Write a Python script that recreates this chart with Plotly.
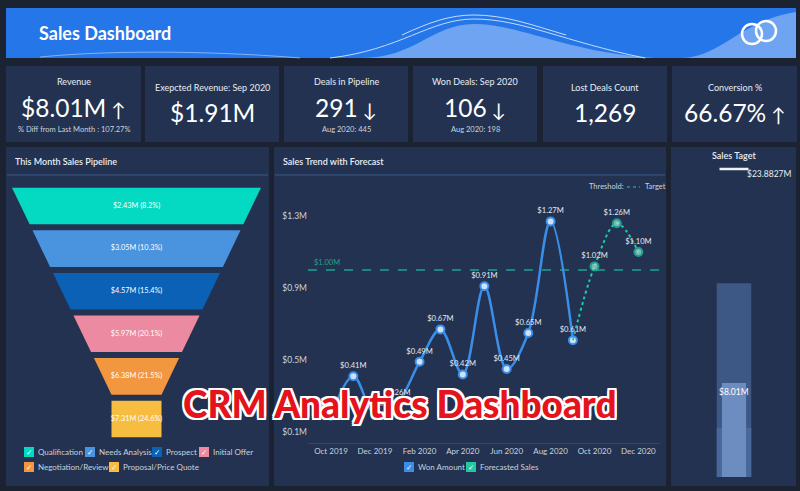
import plotly.graph_objects as go

W, H = 800, 491

# ---------------- data ----------------
kpi_titles = ["Revenue", "Exepcted Revenue: Sep 2020", "Deals in Pipeline",
              "Won Deals: Sep 2020", "Lost Deals Count", "Conversion %"]
kpi_values = ["$8.01M", "$1.91M", "291", "106", "1,269", "66.67%"]
kpi_arrows = ["↑", "", "↓", "↓", "", "↑"]
kpi_subs = ["% Diff from Last Month : 107.27%", "", "Aug 2020: 445",
            "Aug 2020: 198", "", ""]

stages = ["Qualification", "Needs Analysis", "Prospect", "Initial Offer",
          "Negotiation/Review", "Proposal/Price Quote"]
stage_amounts = [2.43, 3.05, 4.57, 5.97, 6.38, 7.31]
stage_colors = ["#04d9c1", "#4993df", "#0b61b5", "#eb8aa0", "#f2963f", "#f6bd40"]

won_months = ["2019-10-01", "2019-11-01", "2019-12-01", "2020-01-01",
              "2020-02-01", "2020-03-01", "2020-04-01", "2020-05-01",
              "2020-06-01", "2020-07-01", "2020-08-01", "2020-09-01"]
won_amounts = [0.19, 0.41, 0.20, 0.26, 0.49, 0.67, 0.42, 0.91, 0.45, 0.65, 1.27, 0.61]
forecast_months = ["2020-09-01", "2020-10-01", "2020-11-01", "2020-12-01"]
forecast_amounts = [0.61, 1.02, 1.26, 1.10]
threshold = 1.00
trend_yticks = [0.1, 0.5, 0.9, 1.3]

sales_target = 23.8827
sales_actual = 8.01
target_bands = [15.4, 4.7]

# ---------------- colours ----------------
BG = "#1b2231"
CARD = "#233250"
SEP = "#3a5a8c"
TXT = "#e8edf4"
SUB = "#c9d2de"
BLUE = "#3b8ee8"
TEAL = "#1ec9a6"


def X(p):
    return p / W


def Y(p):
    return 1 - p / H


shapes = []
annotations = []


def rect(x0, y0, x1, y1, fill, layer="below"):
    shapes.append(dict(type="rect", xref="paper", yref="paper",
                       x0=X(x0), x1=X(x1), y0=Y(y1), y1=Y(y0),
                       fillcolor=fill, line=dict(width=0), layer=layer))


def path(pts_cmds, fill=None, line=None, layer="below"):
    s = ""
    for tok in pts_cmds:
        if isinstance(tok, str):
            s += tok + " "
        else:
            s += f"{X(tok[0]):.5f},{Y(tok[1]):.5f} "
    d = dict(type="path", xref="paper", yref="paper", path=s.strip(), layer=layer)
    d["fillcolor"] = fill if fill else "rgba(0,0,0,0)"
    d["line"] = line if line else dict(width=0)
    shapes.append(d)


def text(x, y, t, size=10, color=TXT, xanchor="center", family="Lato", weight=None, **kw):
    f = dict(size=size, color=color, family=family)
    if weight:
        f["weight"] = weight
    annotations.append(dict(xref="paper", yref="paper", x=X(x), y=Y(y), text=t,
                            showarrow=False, xanchor=xanchor, yanchor="middle",
                            font=f, **kw))


# ---------------- header ----------------
rect(6, 8, 796, 58, "#2576e8")
path(["M", (362, 58), "C", (415, 58), (432, 24), (474, 24), "C", (520, 24), (565, 52), (655, 58), "Z"],
     fill="#6ea4f1")
path(["M", (683, 58), "C", (722, 56), (742, 20), (796, 12), "L", (796, 58), "Z"], fill="#6ea4f1")
path(["M", (402, 35), "C", (430, 22), (450, 15), (474, 15), "C", (505, 15), (532, 25), (566, 35)],
     line=dict(color="rgba(225,236,255,0.85)", width=1))
path(["M", (330, 58), "C", (400, 50), (430, 19), (474, 19), "C", (522, 19), (565, 42), (645, 58)],
     line=dict(color="rgba(225,236,255,0.85)", width=1))
path(["M", (40, 57), "C", (120, 49), (230, 52), (300, 58)],
     line=dict(color="rgba(225,236,255,0.5)", width=1))
shapes.append(dict(type="circle", xref="paper", yref="paper", x0=X(742), x1=X(762),
                   y0=Y(44), y1=Y(24), line=dict(color="white", width=2.5), layer="above"))
shapes.append(dict(type="circle", xref="paper", yref="paper", x0=X(756), x1=X(776),
                   y0=Y(41), y1=Y(21), line=dict(color="white", width=2.5), layer="above"))
text(37, 33, "Sales Dashboard", size=18, color="white", xanchor="left", weight=700)

# ---------------- KPI cards ----------------
card_x = [(6, 141), (145, 279), (284, 408), (413, 537), (543, 667), (672, 797)]
for (x0, x1), t, v, a, s in zip(card_x, kpi_titles, kpi_values, kpi_arrows, kpi_subs):
    rect(x0, 66, x1, 142, CARD)
    cx = (x0 + x1) / 2
    has_sub = bool(s)
    text(cx, 81 if has_sub else 87, t, size=9, color=TXT)
    vt = v + (f"<span style='font-size:19px'> {a}</span>" if a else "")
    text(cx, 107 if has_sub else 112, vt, size=24.5, color="white")
    if has_sub:
        text(cx, 129, s, size=7.5, color=SUB)

# ---------------- panels ----------------
rect(6, 147, 269, 486, CARD)
rect(274, 147, 666, 486, CARD)
rect(671, 147, 796, 486, CARD)
for x0, x1 in [(7, 268), (275, 665)]:
    shapes.append(dict(type="line", xref="paper", yref="paper", x0=X(x0), x1=X(x1),
                       y0=Y(175), y1=Y(175), line=dict(color=SEP, width=1.2), layer="below"))
text(13, 161, "This Month Sales Pipeline", size=9, xanchor="left", weight=600)
text(281, 161, "Sales Trend with Forecast", size=9, xanchor="left", weight=600)
text(734, 156, "Sales Taget", size=9, weight=600)

fig = go.Figure()

# ---------------- funnel ----------------
gap = 0.07
top_w, neck_w, t_start, taper = 249.0, 50.0, -0.43, 40.95
total = sum(stage_amounts)


def fw(t):
    return max(neck_w, top_w - taper * (t - t_start))


for i, (name, amt, col) in enumerate(zip(stages, stage_amounts, stage_colors)):
    tt, tb = i - 0.5 + gap, i + 0.5 - gap
    wt, wb = fw(tt), fw(tb)
    fig.add_trace(go.Scatter(x=[-wt / 2, wt / 2, wb / 2, -wb / 2, -wt / 2],
                             y=[tt, tt, tb, tb, tt], fill="toself", fillcolor=col,
                             mode="lines", line=dict(width=0), hoverinfo="skip",
                             xaxis="x", yaxis="y", showlegend=False))
fig.add_trace(go.Scatter(x=[0] * len(stages), y=list(range(len(stages))), mode="text",
                         text=[f"${a:.2f}M ({a / total * 100:.1f}%)" for a in stage_amounts],
                         textfont=dict(size=7.3, color="white", family="Lato"),
                         xaxis="x", yaxis="y", showlegend=False, hoverinfo="skip"))


def checkbox(x, y, col, label, size=8):
    shapes.append(dict(type="rect", xref="paper", yref="paper", x0=X(x), x1=X(x + 10),
                       y0=Y(y + 5), y1=Y(y - 5), fillcolor=col, line=dict(width=0), layer="above"))
    text(x + 5, y, "✓", size=7.5, color="white", family="DejaVu Sans")
    text(x + 12, y, label, size=size, color=SUB, xanchor="left")


leg_pos = [(24, 452), (85, 452), (152, 452), (199, 452), (24, 467), (109, 467)]
for (lx, ly), name, col in zip(leg_pos, stages, stage_colors):
    checkbox(lx, ly, col, name, size=8)

# ---------------- sales trend ----------------
fig.add_trace(go.Scatter(x=won_months, y=won_amounts, mode="lines+markers+text",
                         line=dict(color=BLUE, width=2.5, shape="spline"),
                         marker=dict(size=8, color="#cfe1f8", line=dict(color=BLUE, width=2)),
                         text=[f"${v:.2f}M" for v in won_amounts], textposition="top center",
                         textfont=dict(size=7.6, color="#e3e9f1", family="Lato"),
                         cliponaxis=False, xaxis="x2", yaxis="y2", showlegend=False,
                         hoverinfo="skip"))
fig.add_trace(go.Scatter(x=forecast_months, y=forecast_amounts, mode="lines+markers+text",
                         line=dict(color=TEAL, width=2, shape="spline", dash="dot"),
                         marker=dict(size=[0, 8, 8, 8], color="#a6f0de",
                                     line=dict(color=TEAL, width=2)),
                         text=[""] + [f"${v:.2f}M" for v in forecast_amounts[1:]],
                         textposition="top center",
                         textfont=dict(size=7.6, color="#e3e9f1", family="Lato"),
                         cliponaxis=False, xaxis="x2", yaxis="y2", showlegend=False,
                         hoverinfo="skip"))
shapes.append(dict(type="line", xref="x2 domain", yref="y2", x0=0, x1=1, y0=threshold,
                   y1=threshold, line=dict(color="#1aa58d", width=1.5, dash="dash"), layer="below"))
annotations.append(dict(xref="x2 domain", yref="y2", x=0.012, y=threshold, yshift=1,
                        text=f"${threshold:.2f}M", showarrow=False, xanchor="left",
                        yanchor="bottom", font=dict(size=7.5, color="#1aa58d", family="Lato")))
text(587, 187, "Threshold:", size=7.5, color=SUB, xanchor="left")
shapes.append(dict(type="line", xref="paper", yref="paper", x0=X(627), x1=X(640),
                   y0=Y(187), y1=Y(187), line=dict(color=TEAL, width=1.2, dash="dot"), layer="above"))
text(643, 187, "Target", size=7.5, color=SUB, xanchor="left")
checkbox(404, 467, BLUE, "Won Amount", size=8)
checkbox(466, 467, TEAL, "Forecasted Sales", size=8)

# ---------------- sales target ----------------
fig.add_trace(go.Bar(x=[0], y=[target_bands[0]], width=[1.0], marker=dict(color="#3d5885", line=dict(width=0)),
                     xaxis="x3", yaxis="y3", showlegend=False, hoverinfo="skip"))
fig.add_trace(go.Bar(x=[0], y=[target_bands[1]], width=[1.0], marker=dict(color="#48679a", line=dict(width=0)),
                     xaxis="x3", yaxis="y3", showlegend=False, hoverinfo="skip"))
fig.add_trace(go.Bar(x=[0], y=[sales_actual], width=[0.7], marker=dict(color="#6d8dc0", line=dict(width=0)),
                     xaxis="x3", yaxis="y3", showlegend=False, hoverinfo="skip"))
fig.add_trace(go.Scatter(x=[-0.42, 0.42], y=[sales_target, sales_target], mode="lines",
                         line=dict(color="#eef2f8", width=2.5), xaxis="x3", yaxis="y3",
                         showlegend=False, hoverinfo="skip", cliponaxis=False))
annotations.append(dict(xref="x3", yref="y3", x=0, y=sales_actual, yshift=-2,
                        text=f"${sales_actual:.2f}M", showarrow=False, yanchor="top",
                        font=dict(size=8.5, color="white", family="Lato")))
annotations.append(dict(xref="paper", yref="paper", x=X(769), y=Y(174),
                        text=f"${sales_target:.4f}M", showarrow=False, xanchor="center",
                        yanchor="middle", font=dict(size=8.5, color=TXT, family="Lato")))

# ---------------- overlay title ----------------
wsh = ", ".join(f"{dx}px {dy}px 0 #ffffff" for dx, dy in
                [(2, 0), (-2, 0), (0, 2), (0, -2), (2, 2), (-2, -2), (2, -2), (-2, 2)])
annotations.append(dict(xref="paper", yref="paper", x=0.5, y=Y(403),
                        text="CRM Analytics Dashboard", showarrow=False,
                        xanchor="center", yanchor="middle",
                        font=dict(size=37, color="#e5131b", family="Lato", weight=900, shadow=wsh)))

# ---------------- layout ----------------
t_lo = 0.1 - (443 - 432) / 180
t_hi = 0.1 + (432 - 190) / 180
px_per_m = (383 - 169) / (sales_target - sales_actual)
s_lo = sales_target - (477 - 169) / px_per_m
s_hi = sales_target + (169 - 160) / px_per_m

fig.update_layout(
    width=W, height=H, autosize=False,
    margin=dict(l=0, r=0, t=0, b=0, pad=0),
    paper_bgcolor=BG, plot_bgcolor="rgba(0,0,0,0)",
    barmode="overlay", showlegend=False,
    font=dict(family="Lato", color=TXT),
    shapes=shapes, annotations=annotations,
    xaxis=dict(domain=[X(6), X(269)], range=[6 - 136.5, 269 - 136.5], visible=False, fixedrange=True),
    yaxis=dict(domain=[Y(440.3), Y(184.7)], range=[5.5, -0.5], visible=False, fixedrange=True),
    xaxis2=dict(domain=[X(308), X(660)], range=["2019-08-30", "2020-12-31"], type="date",
                dtick="M2", tick0="2019-10-01", tickformat="%b %Y", showgrid=False, zeroline=False,
                showline=True, linecolor="#34496b", linewidth=1, ticks="",
                tickfont=dict(size=8, color=SUB, family="Lato"), automargin=False, anchor="y2"),
    yaxis2=dict(domain=[Y(443), Y(190)], range=[t_lo, t_hi], tickvals=trend_yticks,
                ticktext=[f"${v:.1f}M" for v in trend_yticks], showgrid=False, zeroline=False,
                showline=False, ticks="", tickfont=dict(size=8.5, color=SUB, family="Lato"),
                automargin=False, anchor="x2"),
    xaxis3=dict(domain=[X(699.5), X(768.5)], range=[-1, 1], visible=False, fixedrange=True),
    yaxis3=dict(domain=[Y(477), Y(160)], range=[s_lo, s_hi], visible=False, fixedrange=True,
                anchor="x3"),
)

fig.write_html("out.html", config={"displayModeBar": False},
               post_script="document.body.style.margin='0';document.body.style.overflow='hidden';")
